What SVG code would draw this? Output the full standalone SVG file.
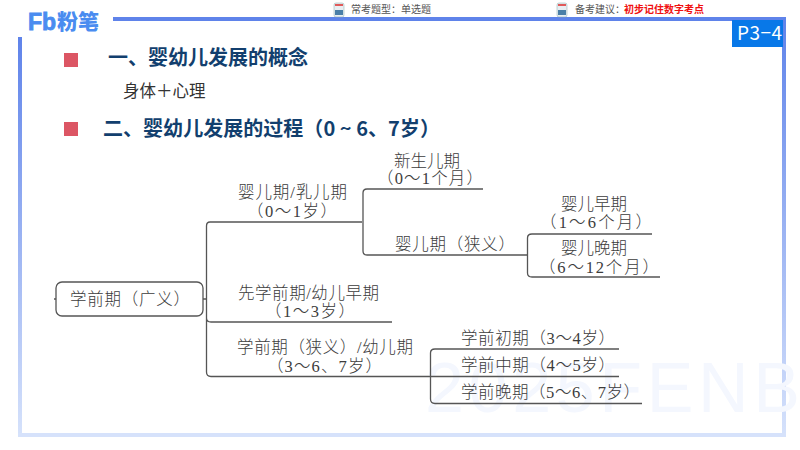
<svg xmlns="http://www.w3.org/2000/svg" width="800" height="450" viewBox="0 0 800 450">
<style>
.s{font-family:"Liberation Serif","Noto Sans CJK SC",serif;font-size:16.5px;fill:#3c3c3c;font-weight:300}
.h{font-family:"Noto Sans CJK SC",sans-serif;font-size:20px;fill:#123f6e;font-weight:700}
.t{font-family:"Noto Sans CJK SC",sans-serif;font-size:10px;fill:#555}
.l{fill:none;stroke:#555;stroke-width:1.3}
</style>
<defs>
<linearGradient id="v" x1="0" y1="0" x2="0" y2="1"><stop offset="0" stop-color="#5f83ea"/><stop offset="1" stop-color="#d6e2fb"/></linearGradient>
</defs>
<rect width="800" height="450" fill="#fff"/>
<g id="frame">
<rect x="113" y="17" width="673" height="4" fill="#5f83ea"/>
<rect x="782" y="17" width="4" height="420" fill="url(#v)"/>
<rect x="18" y="37" width="4" height="400" fill="url(#v)"/>
<rect x="18" y="433" width="768" height="4" fill="#d6e2fb"/>
</g>
<text x="425" y="412" font-family="Liberation Sans,sans-serif" font-size="70" fill="#f4f7fe" textLength="375">2025FENB</text>
<g id="logo">
<text x="28" y="30" font-family="Liberation Sans,sans-serif" font-size="23" font-weight="700" fill="#4a8cf0" stroke="#4a8cf0" stroke-width=".8">Fb</text>
<text x="57" y="29" font-family="Noto Sans CJK SC,sans-serif" font-size="21" font-weight="900" fill="#4a8cf0">粉笔</text>
</g>
<g id="hints">
<rect x="334" y="3" width="10" height="14" rx="2" fill="#e8eef2" stroke="#8aa" stroke-width=".5"/>
<rect x="335" y="10" width="8" height="5" fill="#4a7fa8"/>
<rect x="335" y="4" width="8" height="2" fill="#e05a5a"/>
<text class="t" x="351" y="13">常考题型：单选题</text>
<rect x="557" y="3" width="10" height="14" rx="2" fill="#e8eef2" stroke="#8aa" stroke-width=".5"/>
<rect x="558" y="10" width="8" height="5" fill="#4a7fa8"/>
<rect x="558" y="4" width="8" height="2" fill="#e05a5a"/>
<text class="t" x="575" y="13">备考建议：</text>
<text class="t" x="624" y="13" style="fill:#f01010;font-weight:700">初步记住数字考点</text>
</g>
<g id="badge">
<rect x="732" y="20" width="51" height="27" fill="#0878e8"/>
<text x="737" y="40" font-family="Noto Sans CJK SC,sans-serif" font-size="19" fill="#fff" textLength="45">P3−4</text>
</g>
<g id="headings">
<rect x="64" y="53" width="14" height="14" fill="#dc5664"/>
<text class="h" x="108" y="65">一、婴幼儿发展的概念</text>
<text x="123" y="97" font-family="Noto Sans CJK SC,sans-serif" font-size="16.500" fill="#333">身体＋心理</text>
<rect x="64" y="122" width="14" height="14" fill="#dc5664"/>
<text class="h" x="103" y="136" textLength="337">二、婴幼儿发展的过程（0 ~ 6、7岁）</text>
</g>
<g id="connectors">
<path class="l" d="M203 299H207M56 299H54"/>
<path class="l" d="M362 222H210Q206.500 222 206.500 226V372Q206.500 376.500 211 376.500H430M206.500 318Q206.500 322 211 322H392"/>
<path class="l" d="M483 189H367Q363 189 363 193V251Q363 255 367 255H527"/>
<path class="l" d="M652 234H532Q527.500 234 527.500 238V273Q527.500 277 532 277H660"/>
<path class="l" d="M619 349H435Q430.500 349 430.500 353V399Q430.500 403.500 435 403.500H642M430.500 376.500H619"/>
</g>
<g id="root"><rect x="56" y="282" width="147" height="34" rx="6" fill="#fff" stroke="#555" stroke-width="1.300"/><text class="s" x="70" y="305" textLength="120">学前期（广义）</text></g>
<g id="n1"><text class="s" x="238" y="198" textLength="109">婴儿期/乳儿期</text><text class="s" x="247" y="217" textLength="90">（0～1岁）</text></g>
<g id="n2"><text class="s" x="238" y="299" textLength="141">先学前期/幼儿早期</text><text class="s" x="265" y="317" textLength="90">（1～3岁）</text></g>
<g id="n3"><text class="s" x="237" y="353" textLength="176">学前期（狭义）/幼儿期</text><text class="s" x="267" y="372" textLength="115">（3～6、7岁）</text></g>
<g id="n4"><text class="s" x="394" y="167">新生儿期</text><text class="s" x="377" y="184" textLength="106">（0～1个月）</text></g>
<g id="n5"><text class="s" x="395" y="250" textLength="120">婴儿期（狭义）</text></g>
<g id="n6"><text class="s" x="561" y="210">婴儿早期</text><text class="s" x="540" y="228" textLength="112">（1～6个月）</text></g>
<g id="n7"><text class="s" x="561" y="254">婴儿晚期</text><text class="s" x="539" y="273" textLength="120">（6～12个月）</text></g>
<g id="n8"><text class="s" x="461" y="344" textLength="154">学前初期（3～4岁）</text></g>
<g id="n9"><text class="s" x="461" y="371" textLength="154">学前中期（4～5岁）</text></g>
<g id="n10"><text class="s" x="461" y="398" textLength="179">学前晚期（5～6、7岁）</text></g>
</svg>
